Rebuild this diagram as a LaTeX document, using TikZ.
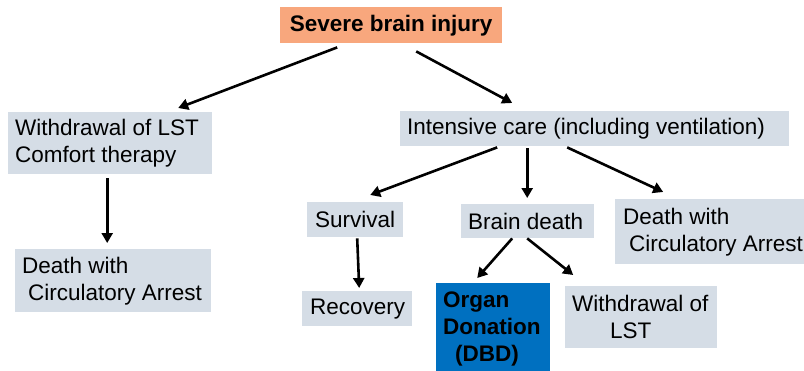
\documentclass[tikz,border=0pt]{standalone}
\usepackage{fontspec}
\setmainfont{Liberation Sans}
\usetikzlibrary{arrows.meta}
\definecolor{boxgray}{RGB}{213,221,230}
\definecolor{boxorange}{RGB}{248,167,125}
\definecolor{boxblue}{RGB}{0,112,192}
\begin{document}
\begin{tikzpicture}[x=1pt,y=-1pt,
  panel/.style={fill=boxgray, draw=none, inner sep=0pt, anchor=north west},
  boxtext/.style={inner sep=0pt, align=left, anchor=west, text=black,
    font=\fontsize{22.5}{27}\selectfont},
  arr/.style={line width=2.6pt, black, -{Triangle[length=10pt,width=11pt]}}
]
\useasboundingbox[fill=white] (0,0) rectangle (804,370);

% top: the injury
\node[panel, fill=boxorange, minimum width=222pt, minimum height=36pt] (sev) at (280,7) {};
\node[inner sep=0pt, font=\bfseries\fontsize{22.5}{27}\selectfont] (sev-t) at (sev.center) {Severe brain injury};

% left branch
\node[panel, minimum width=204pt, minimum height=62pt] (wl) at (8,112) {};
\node[boxtext] (wl-t) at ([xshift=7pt]wl.west) {Withdrawal of LST\\Comfort therapy};
\node[panel, minimum width=196pt, minimum height=63pt] (dl) at (15,249) {};
\node[boxtext] (dl-t) at ([xshift=7pt]dl.west) {Death with\\\hspace*{6pt}Circulatory Arrest};

% right branch
\node[panel, minimum width=389pt, minimum height=35pt] (ic) at (400,111) {};
\node[boxtext] (ic-t) at ([xshift=7pt]ic.west) {Intensive care (including ventilation)};

\node[panel, minimum width=96pt, minimum height=35pt] (surv) at (307,202) {};
\node[boxtext] (surv-t) at ([xshift=8pt]surv.west) {Survival};
\node[panel, minimum width=133pt, minimum height=34pt] (bd) at (461,204) {};
\node[boxtext] (bd-t) at ([xshift=7pt]bd.west) {Brain death};
\node[panel, minimum width=189pt, minimum height=65pt] (dr) at (615,199) {};
\node[boxtext] (dr-t) at ([xshift=8pt]dr.west) {Death with\\\hspace*{6pt}Circulatory Arrest};

\node[panel, minimum width=110pt, minimum height=35pt] (rec) at (302,291) {};
\node[boxtext] (rec-t) at ([xshift=8pt]rec.west) {Recovery};
\node[panel, fill=boxblue, minimum width=114pt, minimum height=100pt] (od) at (436,283) {};
\node[boxtext, anchor=north west, font=\bfseries\fontsize{22.5}{27}\selectfont] (od-t) at (443,291.5) {Organ\\Donation\\\hspace*{12pt}(DBD)};
\node[panel, minimum width=152pt, minimum height=62pt] (wr) at (565,286) {};
\node[boxtext] (wr-t) at ([xshift=7pt]wr.west) {Withdrawal of\\\hspace*{38pt}LST};

% connectors
\draw[arr] ([xshift=-54pt,yshift=-4pt]sev.south) -- ([xshift=68pt,yshift=4pt]wl.north);
\draw[arr] ([xshift=25pt,yshift=-8pt]sev.south) -- ([xshift=-82.5pt,yshift=8pt]ic.north);
\draw[arr] ([xshift=-3pt,yshift=-4pt]wl.south) -- ([xshift=-6pt,yshift=6pt]dl.north);
\draw[arr] ([xshift=-97.5pt,yshift=-1pt]ic.south) -- ([xshift=15pt,yshift=7pt]surv.north);
\draw[arr] ([xshift=-67.5pt,yshift=-2pt]ic.south) -- ([xshift=-0.5pt,yshift=6pt]bd.north);
\draw[arr] ([xshift=-27.5pt,yshift=-1pt]ic.south) -- ([xshift=-46.5pt,yshift=7pt]dr.north);
\draw[arr] ([xshift=2pt,yshift=-1pt]surv.south) -- ([xshift=2pt,yshift=3pt]rec.north);
\draw[arr] ([xshift=-15.5pt]bd.south) -- ([xshift=-16pt,yshift=5pt]od.north);
\draw[arr] ([xshift=-0.5pt]bd.south) -- ([xshift=-68pt,yshift=11pt]wr.north);
\end{tikzpicture}
\end{document}
